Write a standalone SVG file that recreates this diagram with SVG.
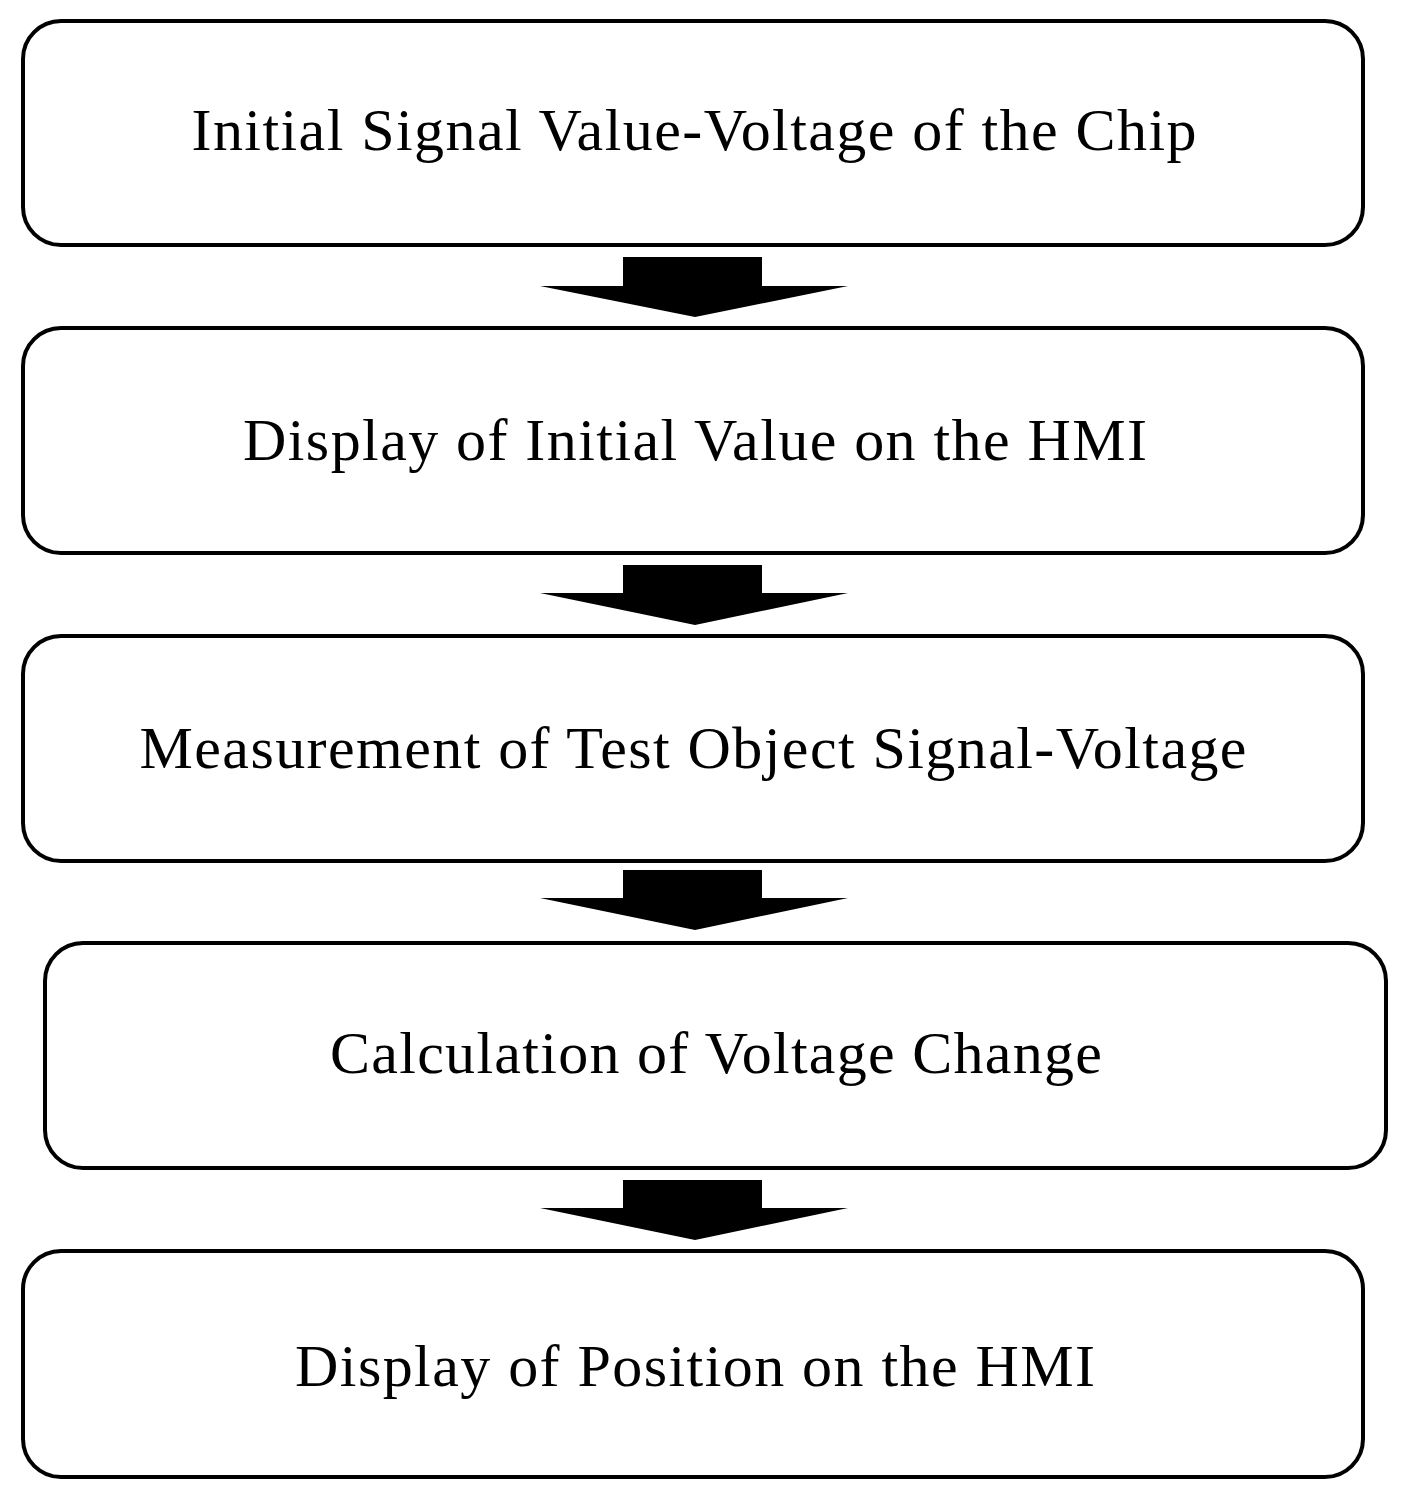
<svg xmlns="http://www.w3.org/2000/svg" width="1410" height="1500" viewBox="0 0 1410 1500">
<style>
.b{fill:#fff;stroke:#000;stroke-width:4}
.t{font-family:"Liberation Serif",serif;font-size:60px;text-anchor:middle;fill:#000}
.a{fill:#000}
</style>
<rect width="1410" height="1500" fill="#fff"/>
<g id="n1"><rect class="b" x="23" y="21" width="1340" height="224" rx="38"/><text class="t" x="694" y="150" textLength="1005" lengthAdjust="spacing">Initial Signal Value-Voltage of the Chip</text></g>
<g id="n2"><rect class="b" x="23" y="328" width="1340" height="225" rx="38"/><text class="t" x="695" y="460" textLength="904" lengthAdjust="spacing">Display of Initial Value on the HMI</text></g>
<g id="n3"><rect class="b" x="23" y="636" width="1340" height="225" rx="38"/><text class="t" x="693" y="768" textLength="1107" lengthAdjust="spacing">Measurement of Test Object Signal-Voltage</text></g>
<g id="n4"><rect class="b" x="45" y="943" width="1341" height="225" rx="38"/><text class="t" x="716" y="1073" textLength="772" lengthAdjust="spacing">Calculation of Voltage Change</text></g>
<g id="n5"><rect class="b" x="23" y="1251" width="1340" height="226" rx="38"/><text class="t" x="695" y="1386" textLength="800" lengthAdjust="spacing">Display of Position on the HMI</text></g>
<g id="connectors">
<path class="a" d="M623 257H762V286H848L695 317L540 286H623Z"/>
<path class="a" d="M623 565H762V593H848L695 625L540 593H623Z"/>
<path class="a" d="M623 870H762V898H848L695 930L540 898H623Z"/>
<path class="a" d="M623 1180H762V1208H848L695 1240L540 1208H623Z"/>
</g>
</svg>
